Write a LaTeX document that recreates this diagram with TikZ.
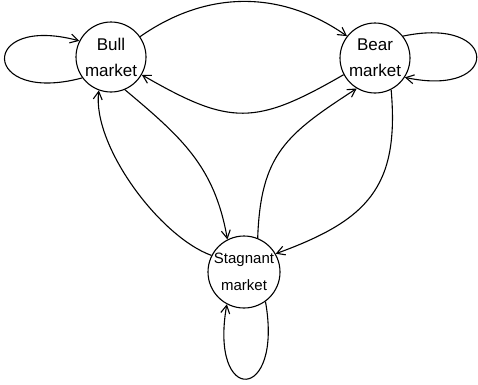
\documentclass[tikz,border=0pt]{standalone}
\usepackage{fontspec}
\setmainfont{Liberation Sans}
\usetikzlibrary{arrows.meta}

\begin{document}
\begin{tikzpicture}[x=1pt, y=1pt, line width=1.1pt,
	marketnode/.style={circle, draw, inner sep=0pt, minimum size=70pt, align=center, font=\fontsize{17}{26}\selectfont},
	trans/.style={-{Straight Barb[length=8pt, width=9pt]}}]
	
	\useasboundingbox (0,0) rectangle (478,-384);
	
	\node[marketnode] (bull) at (111,-57) {Bull\\market};
	\node[marketnode] (bear) at (375,-58) {Bear\\market};
	\node[marketnode, minimum size=72pt, inner sep=-1pt, font=\fontsize{15}{27}\selectfont] (stag) at (244,-272) {Stagnant\\market};
	
	% self loops
	\draw[trans] (bull.216) .. controls +(195:105) and +(165:105) .. (bull.153);
	\draw[trans] (bear.38) .. controls +(12:99) and +(-12:99) .. (bear.-33);
	\draw[trans] (stag.-54) .. controls +(-80:103) and +(-100:103) .. (stag.-118);
	
	\draw[trans] (bull.35) to[out=35, in=145, looseness=1.0] (bear.142);
	\draw[trans] (bear.208) to[out=210, in=-30, looseness=1.3] (bull.-30);
	
	\draw[trans] (bull.-67) to[out=-40, in=100, looseness=1.05] (stag.117);
	\draw[trans] (stag.153) to[out=160, in=263, looseness=0.71] (bull.250);
	
	\draw[trans] (bear.-63) to[out=-85, in=20, looseness=1.25] (stag.30);
	\draw[trans] (stag.68) to[out=88, in=213, looseness=1.2] (bear.239);
	
\end{tikzpicture}
\end{document}
